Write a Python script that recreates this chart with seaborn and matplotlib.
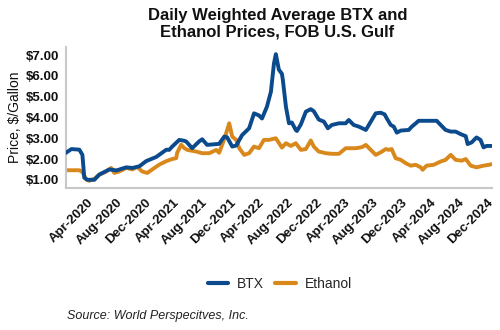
import pandas as pd
import matplotlib
matplotlib.use("Agg")
import matplotlib.pyplot as plt
import matplotlib.dates as mdates
import seaborn as sns

# Daily weighted average prices, FOB U.S. Gulf ($/gallon)
btx_dates = [
    "2020-01-01", "2020-01-24", "2020-02-27", "2020-03-11", "2020-03-19", "2020-04-01",
    "2020-05-01", "2020-05-22", "2020-07-04", "2020-08-03", "2020-09-14", "2020-10-10",
    "2020-11-09", "2020-12-08", "2021-01-20", "2021-03-04", "2021-03-16", "2021-03-29",
    "2021-04-28", "2021-05-19", "2021-05-28", "2021-06-22", "2021-07-22", "2021-08-04",
    "2021-08-25", "2021-10-15", "2021-11-06", "2021-11-18", "2021-12-10", "2021-12-27",
    "2022-01-21", "2022-02-20", "2022-03-13", "2022-04-03", "2022-04-16", "2022-05-07",
    "2022-05-24", "2022-06-06", "2022-06-14", "2022-06-27", "2022-07-10", "2022-07-14",
    "2022-07-27", "2022-08-09", "2022-08-21", "2022-09-07", "2022-09-12", "2022-09-29",
    "2022-10-20", "2022-11-10", "2022-11-23", "2022-12-14", "2023-01-05", "2023-01-22",
    "2023-02-08", "2023-03-10", "2023-04-08", "2023-04-21", "2023-05-12", "2023-06-03",
    "2023-07-03", "2023-07-24", "2023-08-14", "2023-09-04", "2023-09-21", "2023-09-30",
    "2023-10-17", "2023-10-30", "2023-11-12", "2023-11-29", "2024-01-02", "2024-01-15",
    "2024-02-01", "2024-02-13", "2024-04-30", "2024-05-17", "2024-06-07", "2024-06-29",
    "2024-07-20", "2024-08-10", "2024-09-01", "2024-09-09", "2024-09-26", "2024-10-17",
    "2024-11-03", "2024-11-16", "2024-11-29", "2024-12-20",
]
btx_prices = [
    2.30, 2.48, 2.45, 2.20, 1.10, 1.00,
    1.00, 1.25, 1.50, 1.45, 1.60, 1.57,
    1.65, 1.90, 2.10, 2.45, 2.44, 2.60,
    2.92, 2.88, 2.84, 2.52, 2.85, 2.95,
    2.68, 2.73, 3.08, 3.05, 2.60, 2.65,
    3.15, 3.48, 4.20, 4.10, 3.95, 4.52,
    5.24, 6.60, 7.05, 6.30, 6.10, 5.80,
    4.52, 3.72, 3.76, 3.40, 3.35, 3.67,
    4.28, 4.40, 4.30, 3.90, 3.80, 3.48,
    3.64, 3.72, 3.72, 3.88, 3.64, 3.56,
    3.40, 3.80, 4.20, 4.23, 4.15, 3.96,
    3.64, 3.56, 3.27, 3.37, 3.40, 3.56,
    3.72, 3.84, 3.84, 3.64, 3.40, 3.32,
    3.32, 3.20, 3.10, 2.72, 2.80, 3.04,
    2.92, 2.56, 2.63, 2.63,
]

ethanol_dates = [
    "2020-01-01", "2020-02-27", "2020-03-11", "2020-03-27", "2020-04-09", "2020-05-01",
    "2020-05-22", "2020-06-21", "2020-07-12", "2020-07-25", "2020-08-15", "2020-09-14",
    "2020-10-10", "2020-10-31", "2020-11-21", "2020-12-13", "2021-01-03", "2021-02-02",
    "2021-03-04", "2021-03-29", "2021-04-15", "2021-04-19", "2021-05-06", "2021-05-19",
    "2021-06-01", "2021-07-09", "2021-08-04", "2021-09-03", "2021-10-03", "2021-10-15",
    "2021-10-28", "2021-11-14", "2021-11-27", "2021-12-10", "2021-12-27", "2022-01-09",
    "2022-01-30", "2022-02-20", "2022-03-13", "2022-04-03", "2022-04-24", "2022-05-15",
    "2022-06-14", "2022-07-10", "2022-07-27", "2022-08-17", "2022-09-07", "2022-09-29",
    "2022-10-20", "2022-11-10", "2022-11-23", "2022-12-14", "2023-01-13", "2023-02-08",
    "2023-03-10", "2023-04-08", "2023-05-21", "2023-06-16", "2023-07-03", "2023-07-24",
    "2023-08-14", "2023-09-04", "2023-09-26", "2023-10-09", "2023-10-21", "2023-11-07",
    "2023-11-29", "2023-12-20", "2024-01-10", "2024-02-01", "2024-02-22", "2024-03-01",
    "2024-03-18", "2024-04-17", "2024-05-17", "2024-06-07", "2024-06-29", "2024-07-20",
    "2024-08-15", "2024-09-01", "2024-09-22", "2024-10-17", "2024-11-16", "2024-12-08",
    "2024-12-20",
]
ethanol_prices = [
    1.46, 1.46, 1.37, 1.02, 0.95, 1.05,
    1.25, 1.40, 1.57, 1.33, 1.40, 1.57,
    1.50, 1.62, 1.40, 1.33, 1.50, 1.73,
    1.90, 2.00, 2.04, 2.29, 2.69, 2.53,
    2.44, 2.36, 2.28, 2.28, 2.44, 2.30,
    2.68, 3.24, 3.72, 3.08, 2.92, 2.52,
    2.20, 2.28, 2.60, 2.52, 2.92, 2.92,
    3.00, 2.55, 2.76, 2.63, 2.76, 2.44,
    2.48, 2.89, 2.60, 2.36, 2.28, 2.25,
    2.25, 2.52, 2.52, 2.57, 2.68, 2.44,
    2.20, 2.32, 2.48, 2.44, 2.48, 2.04,
    1.96, 1.80, 1.68, 1.72, 1.60, 1.48,
    1.68, 1.72, 1.88, 1.96, 2.20, 1.96,
    1.92, 2.00, 1.68, 1.60, 1.68, 1.72,
    1.75,
]

y_ticks = [1, 2, 3, 4, 5, 6, 7]
series_names = ["BTX", "Ethanol"]
series_colors = {"BTX": "#0b4a8c", "Ethanol": "#d9891c"}

df = pd.concat([
    pd.DataFrame({"Date": pd.to_datetime(btx_dates), "Price": btx_prices, "Series": "BTX"}),
    pd.DataFrame({"Date": pd.to_datetime(ethanol_dates), "Price": ethanol_prices, "Series": "Ethanol"}),
], ignore_index=True)

sns.set_style("white")
plt.rcParams["font.family"] = ["Liberation Sans", "DejaVu Sans"]

fig = plt.figure(figsize=(5, 3.3), dpi=100)
ax = fig.add_axes([0.132, 0.43, 0.852, 0.428])

sns.lineplot(data=df, x="Date", y="Price", hue="Series", hue_order=series_names,
             palette=series_colors, linewidth=2.8, ax=ax, legend=False)
for line in ax.lines:
    line.set_solid_capstyle("round")
    line.set_solid_joinstyle("round")
# BTX drawn above Ethanol
ax.lines[0].set_zorder(3)

ax.set_xlim(pd.Timestamp("2020-01-01"), pd.Timestamp("2024-12-22"))
ax.set_ylim(0.6, 7.4)
ax.set_yticks(y_ticks)
ax.set_yticklabels([f"${v:.2f}" for v in y_ticks], fontsize=9.5, fontweight="bold")

ax.xaxis.set_major_locator(mdates.MonthLocator(bymonth=[4, 8, 12]))
ax.xaxis.set_major_formatter(mdates.DateFormatter("%b-%Y"))
for lab in ax.get_xticklabels():
    lab.set_rotation(45)
    lab.set_ha("right")
    lab.set_va("top")
    lab.set_rotation_mode("anchor")
    lab.set_fontsize(9.5)
    lab.set_fontweight("bold")

ax.tick_params(axis="both", direction="out", length=3, width=1, color="#9a9a9a",
               labelcolor="#111111", pad=2)
ax.tick_params(axis="x", pad=3)

for side in ["top", "right"]:
    ax.spines[side].set_visible(False)
for side in ["left", "bottom"]:
    ax.spines[side].set_color("#c8c8c8")
    ax.spines[side].set_linewidth(1.5)

ax.set_xlabel("")
ax.set_ylabel("Price, $/Gallon", fontsize=10, color="#111111", labelpad=3)
ax.grid(False)

fig.text(0.555, 0.927, "Daily Weighted Average BTX and\nEthanol Prices, FOB U.S. Gulf",
         ha="center", va="center", fontsize=12, fontweight="bold", color="#111111",
         linespacing=1.1)

handles = [plt.Line2D([], [], color=series_colors[n], linewidth=3) for n in series_names]
fig.legend(handles, series_names, loc="center", bbox_to_anchor=(0.56, 0.14), ncol=2,
           frameon=False, fontsize=10, handlelength=1.45, columnspacing=0.8,
           handletextpad=0.65)

fig.text(0.134, 0.043, "Source: World Perspecitves, Inc.", ha="left", va="center",
         fontsize=9, style="italic", color="#222222")

fig.savefig("out.png", dpi=100)
